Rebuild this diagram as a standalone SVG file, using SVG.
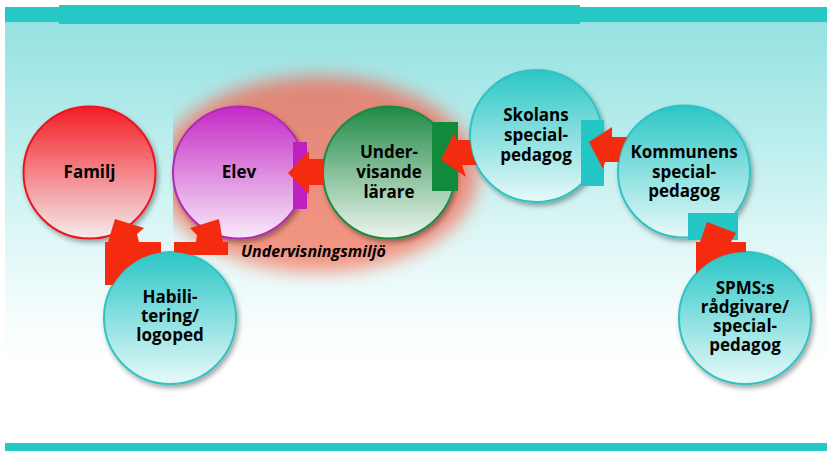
<svg xmlns="http://www.w3.org/2000/svg" width="827" height="451" viewBox="0 0 827 451">
  <defs>
    <linearGradient id="bg" x1="0" y1="22" x2="0" y2="370" gradientUnits="userSpaceOnUse">
      <stop offset="0" stop-color="#95e1e1"/>
      <stop offset="0.3" stop-color="#b6ecec"/>
      <stop offset="0.6" stop-color="#dcf6f6"/>
      <stop offset="0.85" stop-color="#f6fdfd"/>
      <stop offset="1" stop-color="#ffffff"/>
    </linearGradient>
    <linearGradient id="gRed" x1="0" y1="0" x2="0" y2="1">
      <stop offset="0" stop-color="#f41c25"/>
      <stop offset="1" stop-color="#f4eced"/>
    </linearGradient>
    <linearGradient id="gMag" x1="0" y1="0" x2="0" y2="1">
      <stop offset="0" stop-color="#c32ac5"/>
      <stop offset="1" stop-color="#f9eaf9"/>
    </linearGradient>
    <linearGradient id="gGreen" x1="0" y1="0" x2="0" y2="1">
      <stop offset="0" stop-color="#208a46"/>
      <stop offset="1" stop-color="#ecf5ee"/>
    </linearGradient>
    <linearGradient id="gTeal" x1="0" y1="0" x2="0" y2="1">
      <stop offset="0" stop-color="#2bc6c6"/>
      <stop offset="1" stop-color="#e8f9f9"/>
    </linearGradient>
    <linearGradient id="gGlow" x1="0" y1="0" x2="0" y2="1">
      <stop offset="0" stop-color="#de8676"/>
      <stop offset="1" stop-color="#f69684"/>
    </linearGradient>
    <filter id="blur" x="-30%" y="-30%" width="160%" height="160%">
      <feGaussianBlur stdDeviation="9"/>
    </filter>
    <filter id="shadow" x="-20%" y="-20%" width="150%" height="150%">
      <feDropShadow dx="2" dy="3" stdDeviation="2.5" flood-color="#000" flood-opacity="0.35"/>
    </filter>
    <clipPath id="glowClip">
      <rect x="173" y="0" width="654" height="451"/>
    </clipPath>
    <style>
      .band { fill: #26c8c6; }
      .node { stroke-width: 2; filter: url(#shadow); }
      .red { fill: url(#gRed); stroke: #e8141c; }
      .mag { fill: url(#gMag); stroke: #b02cb4; }
      .green { fill: url(#gGreen); stroke: #1c8a40; }
      .teal { fill: url(#gTeal); stroke: #30c2c2; }
      .lbl { font-family: "Open Sans", "Noto Sans", sans-serif; font-weight: 700; font-size: 17px; fill: #000; text-anchor: middle; }
      .env { font-family: "Open Sans", "Noto Sans", sans-serif; font-weight: 700; font-style: italic; font-size: 16px; fill: #000; }
      .arrow { fill: #f52b0f; }
    </style>
  </defs>

  <!-- background -->
  <rect x="0" y="0" width="827" height="451" fill="#ffffff"/>
  <rect x="5" y="22" width="822" height="421" fill="url(#bg)"/>
  <rect class="band" x="5" y="7" width="822" height="15"/>
  <rect class="band" x="59" y="5" width="521" height="19"/>
  <rect class="band" x="5" y="443" width="822" height="8"/>

  <!-- Undervisningsmiljö glow -->
  <g id="undervisningsmiljo">
    <g clip-path="url(#glowClip)">
      <ellipse cx="318" cy="174" rx="160" ry="98" fill="url(#gGlow)" filter="url(#blur)"/>
    </g>
    <text class="env" x="241" y="257">Undervisningsmiljö</text>
  </g>

  <!-- nodes -->
  <g id="familj">
    <circle class="node red" cx="89.5" cy="172.5" r="66"/>
    <text class="lbl" x="89.5" y="178">Familj</text>
  </g>
  <g id="elev">
    <circle class="node mag" cx="239" cy="172.5" r="66"/>
    <text class="lbl" x="239" y="178">Elev</text>
  </g>
  <g id="undervisande-larare">
    <circle class="node green" cx="389" cy="172.5" r="66"/>
    <text class="lbl" x="389" y="158">Under-</text>
    <text class="lbl" x="389" y="178">visande</text>
    <text class="lbl" x="389" y="198">lärare</text>
  </g>
  <g id="skolans-specialpedagog">
    <circle class="node teal" cx="536" cy="136" r="66"/>
    <text class="lbl" x="536" y="121">Skolans</text>
    <text class="lbl" x="536" y="141">special-</text>
    <text class="lbl" x="536" y="161">pedagog</text>
  </g>
  <g id="kommunens-specialpedagog">
    <circle class="node teal" cx="684" cy="171.5" r="66"/>
    <text class="lbl" x="684" y="158">Kommunens</text>
    <text class="lbl" x="684" y="178">special-</text>
    <text class="lbl" x="684" y="197">pedagog</text>
  </g>
  <g id="habilitering-logoped">
    <circle class="node teal" cx="170" cy="318" r="66"/>
    <text class="lbl" x="170" y="303">Habili-</text>
    <text class="lbl" x="170" y="322">tering/</text>
    <text class="lbl" x="170" y="341">logoped</text>
  </g>
  <g id="spms-radgivare">
    <circle class="node teal" cx="745" cy="318" r="66"/>
    <text class="lbl" x="745" y="294">SPMS:s</text>
    <text class="lbl" x="745" y="313">rådgivare/</text>
    <text class="lbl" x="745" y="332">special-</text>
    <text class="lbl" x="745" y="351">pedagog</text>
  </g>

  <!-- connectors -->
  <g id="connectors">
    <rect x="293" y="142" width="14" height="67" fill="#bf20c0"/>
    <rect x="432" y="122" width="26" height="69" fill="#118a3c"/>
    <rect x="581" y="120" width="23" height="66" fill="#25c6c6"/>
    <rect x="688" y="213" width="50" height="27" fill="#25c6c6"/>

    <path class="arrow" d="M288,173 L309,151 L309,159 L324.3,159 A66,66 0 0,0 324.3,185 L309,185 L309,194 Z"/>
    <path class="arrow" d="M441,160 L454,133 L457,140 L470.1,140 A66,66 0 0,0 476.7,165 L462,165 L466,177 Z"/>
    <path class="arrow" d="M589,142 L612,127 L612,137 L627.4,137 A66,66 0 0,0 618.6,162 L605,162 L603,169 Z"/>
    <path class="arrow" d="M707,222 L736,233 L731,242 L746,242 L746,252 A66,66 0 0,0 696,273.8 L696,242 L700,242 Z"/>
    <path class="arrow" d="M115,219 L144,228 L137,234 L139,242 L161,242 L161,252.6 A66,66 0 0,0 112.8,285 L105,285 L105,242 L108,242 Z"/>
    <path class="arrow" d="M219,219 L223,242 L228,242 L228,255 L190,255 A66,66 0 0,0 174,252.1 L174,242 L196,242 L197,235 L190,228 Z"/>
  </g>
</svg>
